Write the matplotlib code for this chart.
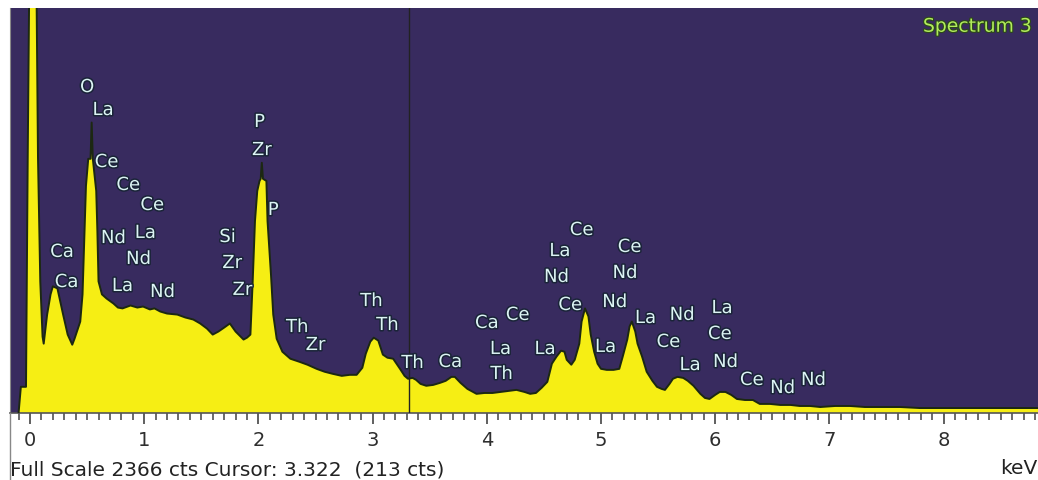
import matplotlib

matplotlib.use("Agg")
import matplotlib.pyplot as plt
import matplotlib.patheffects as pe
from matplotlib.lines import Line2D
from matplotlib.ticker import MultipleLocator

# spectrum (keV, counts); the 0 keV noise peak is clipped above full scale
energy = [
    -0.10, -0.08, -0.035, -0.02, 0.00, 0.05, 0.07, 0.09, 0.11, 0.12,
    0.15, 0.18, 0.20, 0.24, 0.29, 0.33, 0.37, 0.39, 0.44, 0.46,
    0.49, 0.51, 0.53, 0.54, 0.55, 0.58, 0.59, 0.60, 0.63, 0.67,
    0.73, 0.77, 0.81, 0.88, 0.94, 0.99, 1.05, 1.09, 1.14, 1.20,
    1.29, 1.36, 1.43, 1.49, 1.55, 1.60, 1.65, 1.70, 1.75, 1.80,
    1.87, 1.90, 1.93, 1.95, 1.97, 1.99, 2.01, 2.02, 2.03, 2.04,
    2.07, 2.08, 2.11, 2.13, 2.16, 2.21, 2.28, 2.36, 2.43, 2.51,
    2.58, 2.65, 2.73, 2.80, 2.86, 2.91, 2.94, 2.98, 3.01, 3.05,
    3.09, 3.13, 3.18, 3.21, 3.24, 3.28, 3.31, 3.35, 3.38, 3.42,
    3.47, 3.53, 3.59, 3.64, 3.69, 3.72, 3.77, 3.83, 3.88, 3.91,
    3.98, 4.05, 4.12, 4.19, 4.26, 4.33, 4.38, 4.43, 4.48, 4.53,
    4.57, 4.61, 4.65, 4.68, 4.70, 4.74, 4.77, 4.81, 4.83, 4.86,
    4.89, 4.91, 4.94, 4.97, 5.00, 5.05, 5.11, 5.16, 5.19, 5.23,
    5.25, 5.27, 5.30, 5.32, 5.36, 5.40, 5.45, 5.49, 5.53, 5.56,
    5.60, 5.63, 5.67, 5.72, 5.76, 5.81, 5.87, 5.91, 5.95, 6.00,
    6.04, 6.09, 6.14, 6.19, 6.26, 6.33, 6.39, 6.48, 6.57, 6.66,
    6.74, 6.83, 6.92, 7.05, 7.18, 7.31, 7.44, 7.62, 7.79, 8.06,
    8.32, 8.58, 8.83,
]
counts = [
    0, 153, 153, 1491, 3000, 3000, 1491, 769, 446, 405,
    575, 693, 740, 728, 575, 458, 399, 434, 534, 693,
    1327, 1485, 1485, 1697, 1485, 1297, 1063, 769, 693, 669,
    640, 616, 611, 628, 616, 622, 605, 611, 593, 581,
    575, 558, 546, 523, 493, 458, 476, 499, 523, 476,
    429, 440, 458, 769, 1121, 1297, 1356, 1368, 1462, 1368,
    1356, 1121, 810, 575, 434, 358, 317, 299, 282, 258,
    241, 229, 217, 223, 223, 264, 346, 417, 440, 423,
    341, 323, 317, 288, 258, 217, 200, 205, 194, 170,
    159, 164, 176, 188, 211, 211, 176, 141, 123, 112,
    117, 117, 123, 129, 135, 123, 112, 117, 147, 182,
    288, 329, 364, 358, 311, 282, 311, 405, 534, 611,
    564, 458, 358, 288, 258, 252, 252, 258, 329, 429,
    505, 534, 476, 405, 329, 241, 188, 153, 141, 135,
    170, 200, 211, 205, 188, 159, 112, 88, 82, 106,
    123, 123, 106, 82, 76, 76, 53, 53, 47, 47,
    41, 41, 35, 41, 41, 35, 35, 35, 29, 29,
    29, 29, 29,
]

# peak labels (element, keV, counts at label centre)
peak_names = [
    "O", "La", "Ce", "Ce", "Ce", "Nd", "La", "Nd", "Ca", "Ca", "La", "Nd",
    "Si", "Zr", "Zr", "P", "Zr", "P", "Th", "Zr", "Th", "Th", "Th", "Ca",
    "Ca", "Ce", "La", "Th", "La", "Ce", "La", "Nd", "Ce", "Ce", "Nd", "Nd",
    "La", "La", "Nd", "La", "Ce", "Ce", "La", "Nd", "Ce", "Nd", "Nd",
]
peak_kev = [
    0.50, 0.64, 0.67, 0.86, 1.07, 0.73, 1.01, 0.95, 0.28, 0.32, 0.81, 1.16,
    1.73, 1.77, 1.86, 2.01, 2.03, 2.13, 2.34, 2.50, 2.99, 3.13, 3.35, 3.68,
    4.00, 4.27, 4.12, 4.13, 4.51, 4.83, 4.64, 4.61, 4.73, 5.25, 5.21, 5.12,
    5.04, 5.39, 5.71, 6.06, 5.59, 6.04, 5.78, 6.09, 6.32, 6.59, 6.86,
]
peak_cts = [
    1904, 1770, 1466, 1332, 1215, 1022, 1052, 900, 941, 765, 742, 707,
    1028, 876, 719, 1700, 1536, 1186, 502, 397, 654, 514, 292, 298,
    526, 573, 374, 228, 374, 1069, 946, 795, 631, 970, 818, 648,
    386, 555, 573, 613, 415, 462, 280, 298, 193, 146, 193,
]

FULL_SCALE = 2366
CURSOR_KEV = 3.322
CURSOR_CTS = 213

BG = "#382b5f"
YELLOW = "#f6ee14"
EDGE = "#1c2812"
LABEL = "#dcf4f4"
W, H = 1038, 480

fig = plt.figure(figsize=(W / 100, H / 100), dpi=100)
fig.patch.set_facecolor("white")
ax = fig.add_axes([10 / W, (H - 413) / H, (W - 10) / W, 405 / H])
ax.set_facecolor(BG)

ax.fill_between(energy, counts, 0, color=YELLOW, lw=0, zorder=2)
ax.plot(energy, counts, color=EDGE, lw=1.4, zorder=3)
ax.axvline(CURSOR_KEV, color="#222222", lw=1, zorder=4)

ax.set_xlim((10 - 30) / 114.2, (W - 30) / 114.2)
ax.set_ylim(0, FULL_SCALE)

outline = [pe.withStroke(linewidth=2.2, foreground="#1a2438")]
for name, x, y in zip(peak_names, peak_kev, peak_cts):
    ax.text(x, y, name, ha="center", va="center", fontsize=13,
            color=LABEL, path_effects=outline, zorder=5)

ax.text(0.994, 0.955, "Spectrum 3", transform=ax.transAxes, ha="right",
        va="center", fontsize=13.5, color="#b2ec5c",
        path_effects=[pe.withStroke(linewidth=1.6, foreground="#2c4a18")])

for side in ["top", "right"]:
    ax.spines[side].set_visible(False)
ax.spines["left"].set_color("#888888")
ax.spines["bottom"].set_color("#555555")
ax.spines["bottom"].set_linewidth(1.2)

ax.xaxis.set_major_locator(MultipleLocator(1))
ax.xaxis.set_minor_locator(MultipleLocator(0.1))
ax.tick_params(axis="x", which="major", length=8, width=1.2, color="#444444",
               pad=5, labelsize=14, labelcolor="#2e2e2e")
ax.tick_params(axis="x", which="minor", length=5, width=1.1, color="#444444")
ax.set_yticks([])

fig.add_artist(Line2D([10 / W, 10 / W], [0, (H - 413) / H], color="#888888", lw=1))

fig.text(10 / W, (H - 470) / H,
         f"Full Scale {FULL_SCALE} cts Cursor: {CURSOR_KEV:.3f}  ({CURSOR_CTS} cts)",
         ha="left", va="center", fontsize=14.5, color="#222222")
fig.text((W - 1) / W, (H - 468) / H, "keV", ha="right", va="center",
         fontsize=14.5, color="#222222")

fig.savefig("out.png", dpi=100, facecolor="white")
